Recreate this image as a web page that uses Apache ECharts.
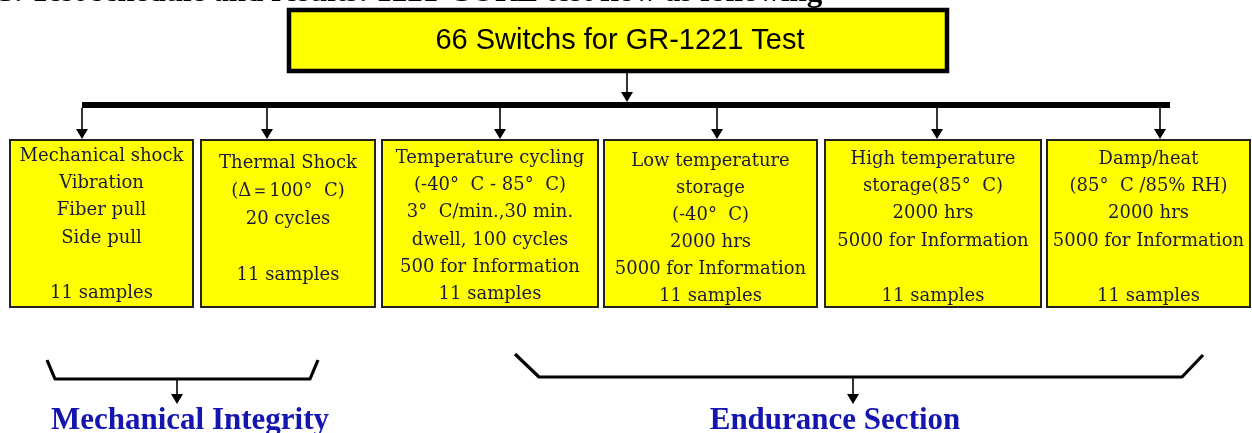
<!DOCTYPE html>
<html><head><meta charset="utf-8">
<script src="https://cdn.jsdelivr.net/npm/echarts@6/dist/echarts.min.js"></script>
<style>html,body{margin:0;padding:0;background:#fff}#c{width:1252px;height:433px}</style>
</head><body><div id="c"></div>
<script>
// ---- content ----
const headline = '3. Test schedule and results: 1221-CORE test flow as following';
const rootLabel = '66 Switchs for GR-1221 Test';
const testLabels = [
  ['Mechanical shock', 'Vibration', 'Fiber pull', 'Side pull', '', '11 samples'],
  ['Thermal Shock', '(Δ＝100°  C)', '20 cycles', '', '11 samples'],
  ['Temperature cycling', '(-40°  C - 85°  C)', '3°  C/min.,30 min.', 'dwell, 100 cycles', '500 for Information', '11 samples'],
  ['Low temperature', 'storage', '(-40°  C)', '2000 hrs', '5000 for Information', '11 samples'],
  ['High temperature', 'storage(85°  C)', '2000 hrs', '5000 for Information', '', '11 samples'],
  ['Damp/heat', '(85°  C /85% RH)', '2000 hrs', '5000 for Information', '', '11 samples']
];
const groupLabels = ['Mechanical Integrity', 'Endurance Section'];

// ---- layout (in the pixel space of a hidden 1252 x 433 value grid) ----
const layout = {
  rootBox: [289, 947, 10, 71],
  rootArrowX: 627,
  busY: 105, busX: [82, 1170],
  boxEdges: [[10, 193], [201, 375], [382, 598], [604, 817], [825, 1041], [1047, 1250]],
  boxTop: 140, boxBottom: 307,
  arrowX: [82, 267, 500, 717, 937, 1160],
  firstLineY: [156, 163, 158, 161, 159, 159],
  lineGap: [27.4, 28, 27.3, 27, 27.4, 27.4],
  braces: [
    { pts: [[47, 360], [55, 379], [310, 379], [318, 360]], arrowX: 177, arrowY: [380, 404], labelX: 190 },
    { pts: [[515, 354], [539, 377], [1182, 377], [1203, 355]], arrowX: 853, arrowY: [378, 404], labelX: 835 }
  ],
  headlineY: -7, groupLabelY: 421
};

const boxFont = '18px "DejaVu Serif"';
const boxInk = '#1a1a3a';

const chart = echarts.init(document.getElementById('c'), null, { renderer: 'canvas' });

function arrow(api, x, y0, y1, lw) {
  const a = api.coord([x, y0]), b = api.coord([x, y1 - 10]), tip = api.coord([x, y1]);
  return [
    { type: 'line', shape: { x1: a[0], y1: a[1], x2: b[0], y2: b[1] }, style: { stroke: '#000', lineWidth: lw || 1.6 } },
    { type: 'polygon', shape: { points: [[b[0] - 6, b[1]], [b[0] + 6, b[1]], tip] }, style: { fill: '#000' } }
  ];
}
function txt(x, y, text, font, fill, align, extra) {
  return { type: 'text', style: Object.assign({ text: text, x: x, y: y, font: font, fill: fill,
    align: align || 'center', textAlign: align || 'center', verticalAlign: 'middle', textVerticalAlign: 'middle' }, extra || {}) };
}

const option = {
  animation: false,
  grid: { left: 0, right: 0, top: 0, bottom: 0 },
  xAxis: { type: 'value', min: 0, max: 1252, show: false },
  yAxis: { type: 'value', min: 0, max: 433, inverse: true, show: false },
  series: [
    { // headline + root
      type: 'custom', clip: false, data: [[0, 0]],
      renderItem: function (params, api) {
        const r = layout.rootBox;
        const p0 = api.coord([r[0], r[2]]), p1 = api.coord([r[1], r[3]]);
        const h = api.coord([-1, layout.headlineY]);
        const c = api.coord([(r[0] + r[1]) / 2 + 2, (r[2] + r[3]) / 2 + 0.5]);
        return { type: 'group', children: [
          txt(h[0], h[1], headline, 'bold 31px "Liberation Serif"', '#000', 'left'),
          { type: 'rect', shape: { x: p0[0], y: p0[1], width: p1[0] - p0[0], height: p1[1] - p0[1] },
            style: { fill: '#ffff00', stroke: '#000', lineWidth: 4.5 } },
          txt(c[0], c[1], rootLabel, '29px "Liberation Sans"', '#000'),
          ...arrow(api, layout.rootArrowX, r[3] + 2, layout.busY - 3)
        ] };
      }
    },
    { // bus + branch arrows
      type: 'custom', clip: false, data: [[0, 0]],
      renderItem: function (params, api) {
        const a = api.coord([layout.busX[0], layout.busY]), b = api.coord([layout.busX[1], layout.busY]);
        const kids = [{ type: 'line', shape: { x1: a[0], y1: a[1], x2: b[0], y2: b[1] }, style: { stroke: '#000', lineWidth: 6 } }];
        layout.arrowX.forEach(function (x) { kids.push.apply(kids, arrow(api, x, layout.busY + 3, layout.boxTop - 1)); });
        return { type: 'group', children: kids };
      }
    },
    { // test boxes
      type: 'custom', clip: false, data: testLabels.map(function (d, i) { return [i, 0]; }),
      renderItem: function (params, api) {
        const i = params.dataIndex;
        const e = layout.boxEdges[i];
        const p0 = api.coord([e[0], layout.boxTop]), p1 = api.coord([e[1], layout.boxBottom]);
        const t = api.coord([(e[0] + e[1]) / 2, layout.firstLineY[i] - layout.lineGap[i] / 2]);
        return { type: 'group', children: [
          { type: 'rect', shape: { x: p0[0], y: p0[1], width: p1[0] - p0[0], height: p1[1] - p0[1] },
            style: { fill: '#ffff00', stroke: '#222', lineWidth: 2 } },
          { type: 'text', style: { text: testLabels[i].join('\n'), x: t[0], y: t[1], font: boxFont, fill: boxInk,
            align: 'center', textAlign: 'center', verticalAlign: 'top', textVerticalAlign: 'top', lineHeight: layout.lineGap[i] } }
        ] };
      }
    },
    { // group braces + labels
      type: 'custom', clip: false, data: groupLabels.map(function (d, i) { return [i, 0]; }),
      renderItem: function (params, api) {
        const g = layout.braces[params.dataIndex];
        const pts = g.pts.map(function (p) { return api.coord(p); });
        const l = api.coord([g.labelX, layout.groupLabelY]);
        return { type: 'group', children: [
          { type: 'polyline', shape: { points: pts }, style: { stroke: '#000', lineWidth: 3.2, fill: null, lineJoin: 'round' } },
          ...arrow(api, g.arrowX, g.arrowY[0], g.arrowY[1]),
          txt(l[0], l[1], groupLabels[params.dataIndex], 'bold 31px "Liberation Serif"', '#1515b0')
        ] };
      }
    }
  ]
};
chart.setOption(option);
</script></body></html>
